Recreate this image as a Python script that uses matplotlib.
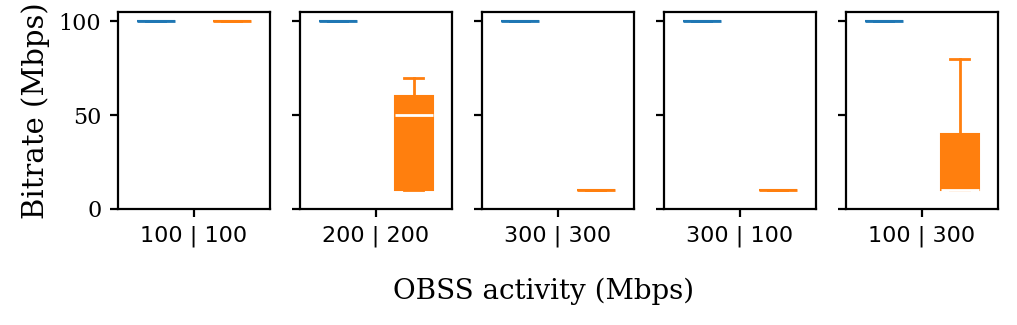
import numpy as np
import matplotlib.pyplot as plt

# OBSS scenarios (one panel each)
scenarios = ["100 | 100", "200 | 200", "300 | 300", "300 | 100", "100 | 300"]

# bitrate samples (Mbps) per scenario
blue_vals = [
    [100, 100, 100, 100, 100],
    [100, 100, 100, 100, 100],
    [100, 100, 100, 100, 100],
    [100, 100, 100, 100, 100],
    [100, 100, 100, 100, 100],
]
orange_vals = [
    [100, 100, 100, 100, 100],
    [10, 10, 50, 60, 70],
    [10, 10, 10, 10, 10],
    [10, 10, 10, 10, 10],
    [10, 10, 10, 40, 80],
]
colors = ["#1f77b4", "#ff7f0e"]

plt.rcParams['font.family'] = 'DejaVu Serif'

fig, axes = plt.subplots(1, 5, figsize=(10.17, 3.25), dpi=100, sharey=True)
fig.subplots_adjust(left=0.116, right=0.981, top=0.963, bottom=0.357, wspace=0.2)

for i, ax in enumerate(axes):
    data = [blue_vals[i], orange_vals[i]]
    bp = ax.boxplot(data, positions=[1, 2], widths=0.5, patch_artist=True,
                    showfliers=False)
    for j, c in enumerate(colors):
        bp['boxes'][j].set(facecolor=c, edgecolor=c, linewidth=1.5)
        bp['medians'][j].set(color='white' if np.ptp(data[j]) > 0 else c, linewidth=2)
        for w in bp['whiskers'][2 * j:2 * j + 2]:
            w.set(color=c, linewidth=2)
        for cap in bp['caps'][2 * j:2 * j + 2]:
            cap.set(color=c, linewidth=2)
    ax.set_xlim(0.5, 2.5)
    ax.set_xticks([1.5])
    ax.set_xticklabels([scenarios[i]], fontsize=17, family='DejaVu Sans')
    for s in ax.spines.values():
        s.set_linewidth(1.6)
    ax.tick_params(length=6, width=1.6, labelsize=16, pad=6)

axes[0].set_ylim(0, 105)
axes[0].set_yticks([0, 50, 100])
axes[0].set_ylabel("Bitrate (Mbps)", fontsize=21, labelpad=6)

fig.text(544 / 1017, 0.105, "OBSS activity (Mbps)", fontsize=20,
         ha='center', va='center')

fig.savefig("out.png", dpi=100)
